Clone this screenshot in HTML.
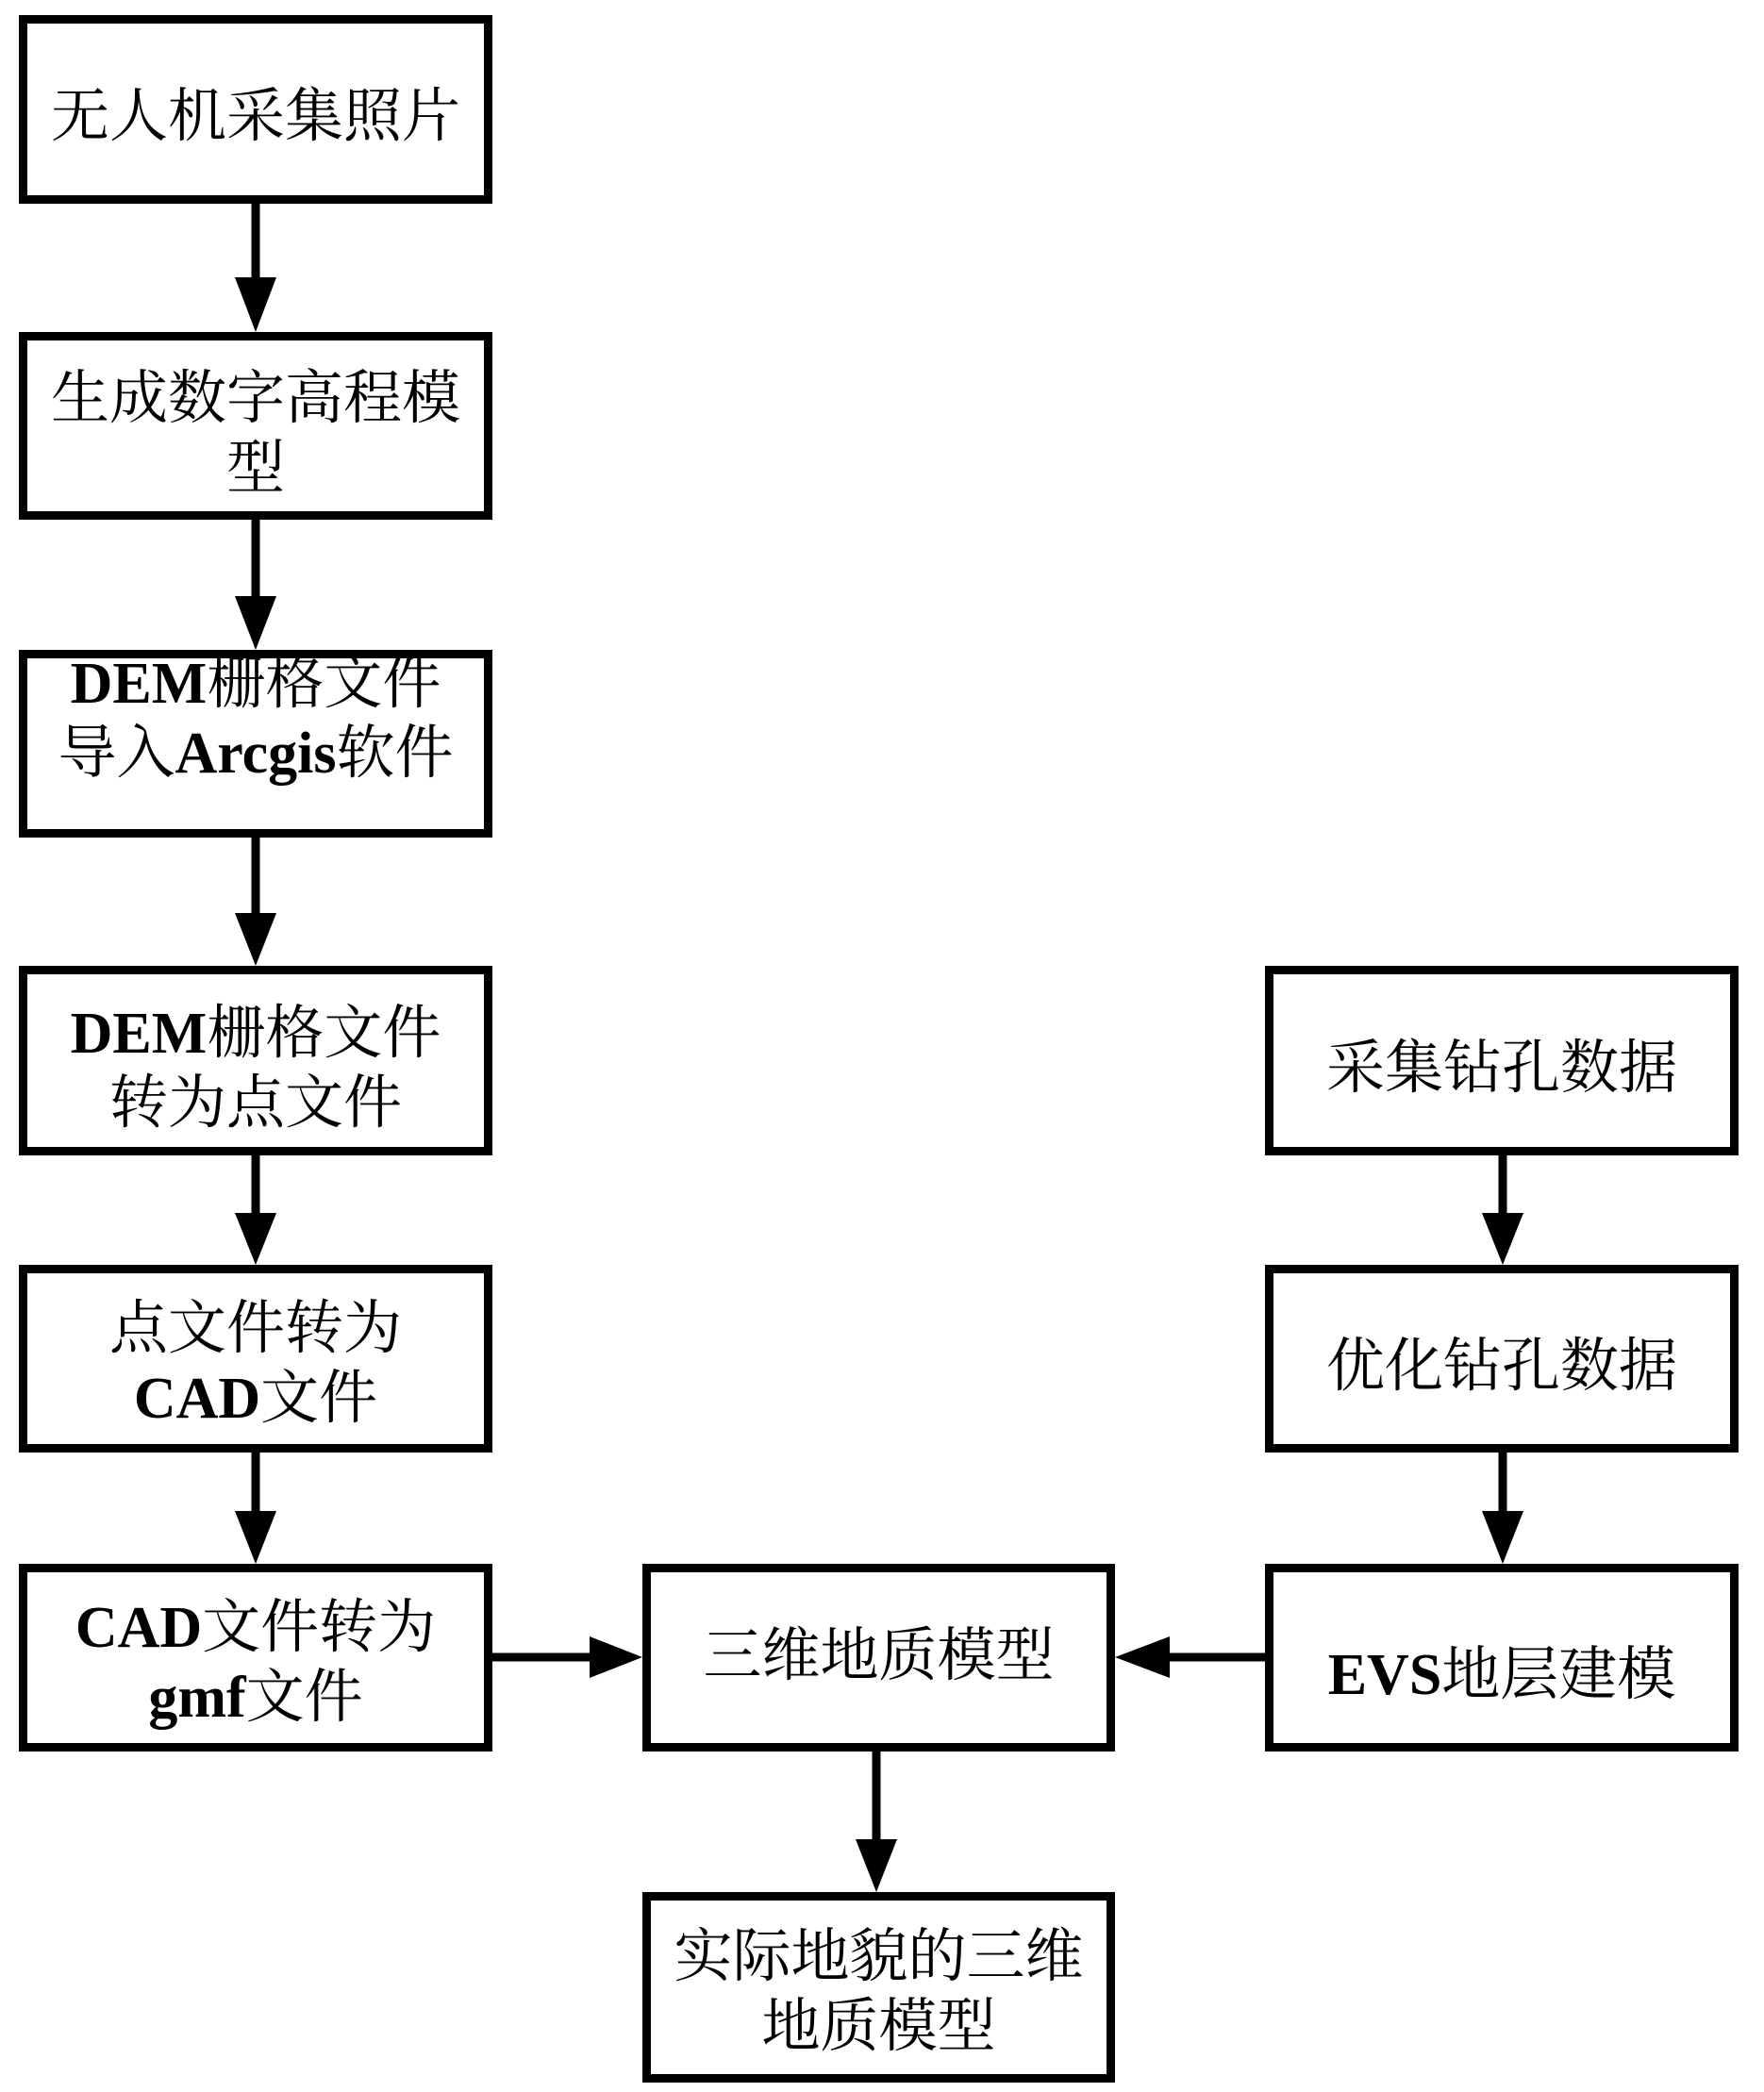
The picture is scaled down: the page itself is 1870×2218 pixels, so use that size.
<!DOCTYPE html>
<html><head><meta charset="utf-8"><style>
body{margin:0;width:1870px;height:2218px;background:#fff;position:relative;overflow:hidden}
.b{position:absolute;box-sizing:border-box;border:9px solid #000;display:flex;align-items:center;justify-content:center;text-align:center;font-family:"Liberation Serif","Noto Serif CJK SC",serif;font-size:62px;line-height:74px;color:#000;padding-top:16px}
.b b{font-weight:bold}
.b div{white-space:nowrap}
svg{position:absolute;left:0;top:0}
</style></head><body>
<div class="b" style="left:20px;top:16px;width:502px;height:200px"><div>无人机采集照片</div></div>
<div class="b" style="left:20px;top:352px;width:502px;height:199px"><div>生成数字高程模<br>型</div></div>
<div class="b" style="left:20px;top:689px;width:502px;height:199px;padding-top:0;padding-bottom:54px"><div><b>DEM</b>栅格文件<br>导入<b>Arcgis</b>软件</div></div>
<div class="b" style="left:20px;top:1024px;width:502px;height:201px"><div><b>DEM</b>栅格文件<br>转为点文件</div></div>
<div class="b" style="left:20px;top:1341px;width:502px;height:199px;padding-top:10px"><div>点文件转为<br><b>CAD</b>文件</div></div>
<div class="b" style="left:20px;top:1658px;width:502px;height:199px;padding-top:10px"><div><b>CAD</b>文件转为<br><b>gmf</b>文件</div></div>
<div class="b" style="left:681px;top:1658px;width:501px;height:199px;padding-top:0;padding-bottom:4px"><div>三维地质模型</div></div>
<div class="b" style="left:681px;top:2006px;width:501px;height:202px;padding-top:10px"><div>实际地貌的三维<br>地质模型</div></div>
<div class="b" style="left:1341px;top:1024px;width:502px;height:201px"><div>采集钻孔数据</div></div>
<div class="b" style="left:1341px;top:1341px;width:502px;height:199px"><div>优化钻孔数据</div></div>
<div class="b" style="left:1341px;top:1658px;width:502px;height:199px;padding-top:36px"><div><b>EVS</b>地层建模</div></div>
<svg width="1870" height="2218">
<g stroke="#000" stroke-width="9">
<line x1="271" y1="215" x2="271" y2="300"/>
<line x1="271" y1="550" x2="271" y2="640"/>
<line x1="271" y1="887" x2="271" y2="975"/>
<line x1="271" y1="1224" x2="271" y2="1292"/>
<line x1="271" y1="1539" x2="271" y2="1610"/>
<line x1="1593" y1="1224" x2="1593" y2="1292"/>
<line x1="1593" y1="1539" x2="1593" y2="1610"/>
<line x1="929" y1="1856" x2="929" y2="1955"/>
<line x1="521" y1="1757" x2="630" y2="1757"/>
<line x1="1341" y1="1757" x2="1235" y2="1757"/>
</g>
<g fill="#000">
<polygon points="249,294 293,294 271,352"/>
<polygon points="249,632 293,632 271,689"/>
<polygon points="249,968 293,968 271,1024"/>
<polygon points="249,1286 293,1286 271,1341"/>
<polygon points="249,1602 293,1602 271,1658"/>
<polygon points="1571,1286 1615,1286 1593,1341"/>
<polygon points="1571,1602 1615,1602 1593,1658"/>
<polygon points="907,1950 951,1950 929,2006"/>
<polygon points="625,1735 625,1779 681,1757"/>
<polygon points="1240,1735 1240,1779 1182,1757"/>
</g>
</svg>
</body></html>
